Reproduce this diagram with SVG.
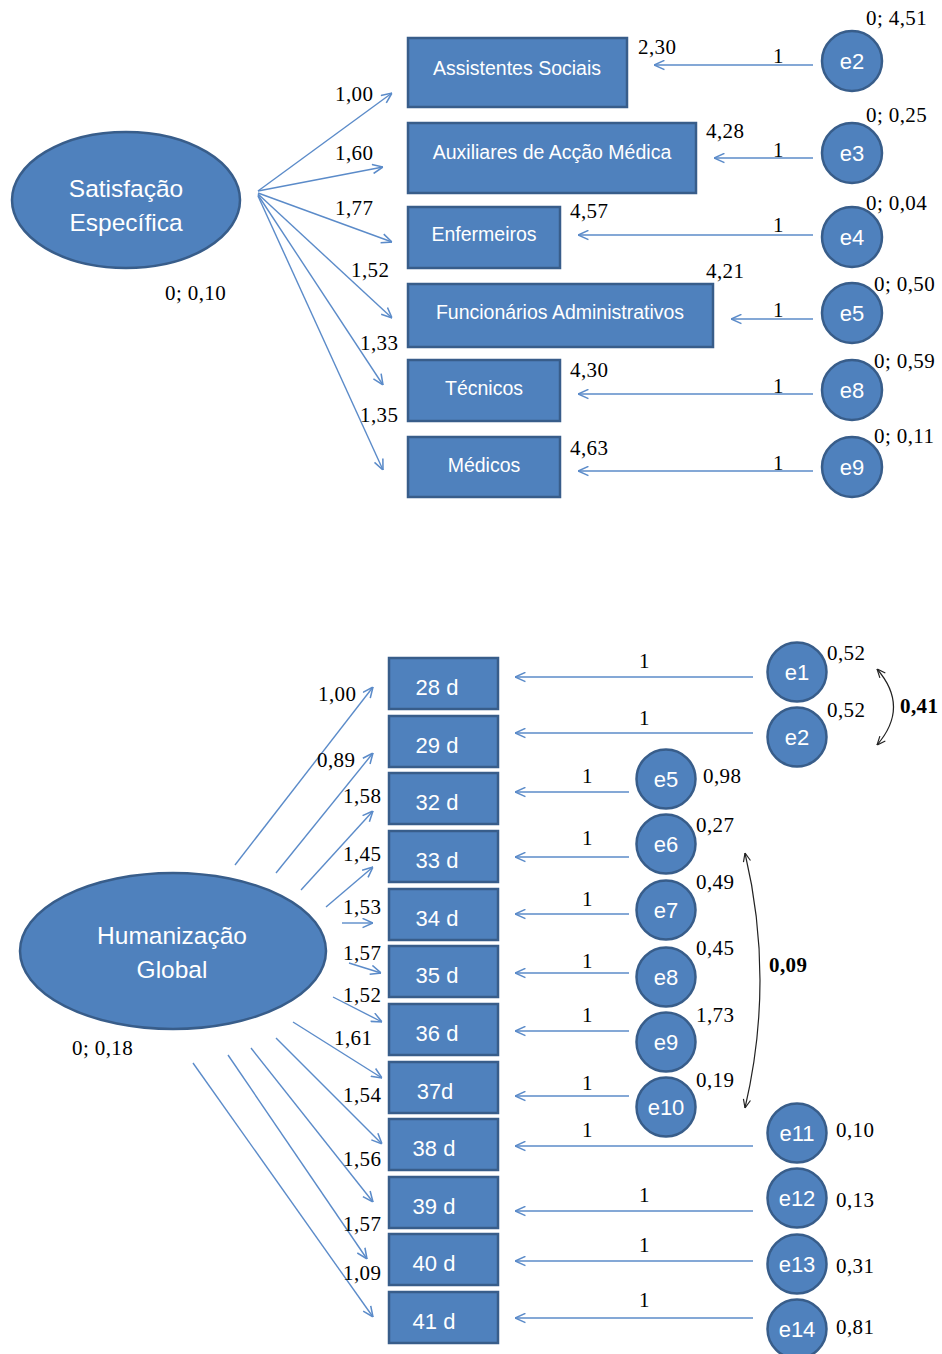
<svg xmlns="http://www.w3.org/2000/svg" width="942" height="1354" viewBox="0 0 942 1354">
<style>
.node{fill:#4f81bd;stroke:#385d8a;stroke-width:2.5}
.nt{font-family:"Liberation Sans",Arial,sans-serif;fill:#fff;text-anchor:middle}
.bt{font-size:19.5px}
.et{font-size:24.5px}
.ct{font-size:22px}
.lb{font-family:"Liberation Serif","Times New Roman",serif;font-size:21px;letter-spacing:0.4px;fill:#000}
.bold{font-weight:bold}
.ln{stroke:#5b8bc9;stroke-width:1.4;fill:none;marker-end:url(#ab)}
.cv{stroke:#222;stroke-width:1.2;fill:none;marker-start:url(#ak);marker-end:url(#ak)}
</style>
<defs>
<marker id="ab" viewBox="0 0 10 10" refX="10" refY="5" markerWidth="11" markerHeight="11" markerUnits="userSpaceOnUse" orient="auto">
<path d="M0.5,0.8 L10,5 L0.5,9.2" fill="none" stroke="#5b8bc9" stroke-width="1.4"/>
</marker>
<marker id="ak" viewBox="0 0 10 10" refX="10" refY="5" markerWidth="9" markerHeight="9" markerUnits="userSpaceOnUse" orient="auto-start-reverse">
<path d="M0.5,1 L10,5 L0.5,9" fill="none" stroke="#222" stroke-width="1.3"/>
</marker>
</defs>

<g id="connectors">
<line class="ln" x1="258" y1="191" x2="392" y2="93"/>
<line class="ln" x1="258" y1="191" x2="383" y2="167"/>
<line class="ln" x1="258" y1="193" x2="392" y2="242"/>
<line class="ln" x1="258" y1="194" x2="392" y2="318"/>
<line class="ln" x1="258" y1="195" x2="383" y2="385"/>
<line class="ln" x1="258" y1="196" x2="383" y2="470"/>
<line class="ln" x1="813" y1="65" x2="654" y2="65"/>
<line class="ln" x1="813" y1="158" x2="714" y2="158"/>
<line class="ln" x1="813" y1="235" x2="578" y2="235"/>
<line class="ln" x1="813" y1="319" x2="731" y2="319"/>
<line class="ln" x1="813" y1="394" x2="578" y2="394"/>
<line class="ln" x1="813" y1="471" x2="578" y2="471"/>
<line class="ln" x1="235" y1="865" x2="373" y2="687"/>
<line class="ln" x1="276" y1="873" x2="373" y2="753"/>
<line class="ln" x1="301" y1="890" x2="373" y2="811"/>
<line class="ln" x1="326" y1="907" x2="373" y2="867"/>
<line class="ln" x1="342" y1="923" x2="373" y2="923"/>
<line class="ln" x1="349" y1="963" x2="381" y2="973"/>
<line class="ln" x1="333" y1="997" x2="382" y2="1022"/>
<line class="ln" x1="293" y1="1022" x2="382" y2="1078"/>
<line class="ln" x1="276" y1="1038" x2="382" y2="1144"/>
<line class="ln" x1="251" y1="1048" x2="373" y2="1202"/>
<line class="ln" x1="228" y1="1055" x2="367" y2="1259"/>
<line class="ln" x1="193" y1="1063" x2="373" y2="1317"/>
<line class="ln" x1="753" y1="677" x2="515" y2="677"/>
<line class="ln" x1="753" y1="733" x2="515" y2="733"/>
<line class="ln" x1="629" y1="792" x2="515" y2="792"/>
<line class="ln" x1="629" y1="857" x2="515" y2="857"/>
<line class="ln" x1="629" y1="914" x2="515" y2="914"/>
<line class="ln" x1="629" y1="973" x2="515" y2="973"/>
<line class="ln" x1="629" y1="1031" x2="515" y2="1031"/>
<line class="ln" x1="629" y1="1096" x2="515" y2="1096"/>
<line class="ln" x1="753" y1="1146" x2="515" y2="1146"/>
<line class="ln" x1="753" y1="1211" x2="515" y2="1211"/>
<line class="ln" x1="753" y1="1261" x2="515" y2="1261"/>
<line class="ln" x1="753" y1="1318" x2="515" y2="1318"/>
<path class="cv" d="M877,669 Q910,707 877,745"/>
<path class="cv" d="M745,853 Q775,980 745,1108"/>
</g>

<g id="labels" class="lb">
<text x="335" y="101">1,00</text>
<text x="335" y="160">1,60</text>
<text x="335" y="215">1,77</text>
<text x="351" y="277">1,52</text>
<text x="360" y="350">1,33</text>
<text x="360" y="422">1,35</text>
<text x="165" y="300">0; 0,10</text>
<text x="638" y="54">2,30</text>
<text x="706" y="138">4,28</text>
<text x="570" y="218">4,57</text>
<text x="706" y="278">4,21</text>
<text x="570" y="377">4,30</text>
<text x="570" y="455">4,63</text>
<text x="773" y="63">1</text>
<text x="773" y="157">1</text>
<text x="773" y="232">1</text>
<text x="773" y="317">1</text>
<text x="773" y="393">1</text>
<text x="773" y="470">1</text>
<text x="866" y="25">0; 4,51</text>
<text x="866" y="122">0; 0,25</text>
<text x="866" y="210">0; 0,04</text>
<text x="874" y="291">0; 0,50</text>
<text x="874" y="368">0; 0,59</text>
<text x="874" y="443">0; 0,11</text>
<text x="318" y="701">1,00</text>
<text x="317" y="767">0,89</text>
<text x="343" y="803">1,58</text>
<text x="343" y="861">1,45</text>
<text x="343" y="914">1,53</text>
<text x="343" y="960">1,57</text>
<text x="343" y="1002">1,52</text>
<text x="334" y="1045">1,61</text>
<text x="343" y="1102">1,54</text>
<text x="343" y="1166">1,56</text>
<text x="343" y="1231">1,57</text>
<text x="343" y="1280">1,09</text>
<text x="72" y="1055">0; 0,18</text>
<text x="639" y="668">1</text>
<text x="639" y="725">1</text>
<text x="582" y="783">1</text>
<text x="582" y="845">1</text>
<text x="582" y="906">1</text>
<text x="582" y="968">1</text>
<text x="582" y="1022">1</text>
<text x="582" y="1090">1</text>
<text x="582" y="1137">1</text>
<text x="639" y="1202">1</text>
<text x="639" y="1252">1</text>
<text x="639" y="1307">1</text>
<text x="827" y="660">0,52</text>
<text x="827" y="717">0,52</text>
<text x="703" y="783">0,98</text>
<text x="696" y="832">0,27</text>
<text x="696" y="889">0,49</text>
<text x="696" y="955">0,45</text>
<text x="696" y="1022">1,73</text>
<text x="696" y="1087">0,19</text>
<text x="836" y="1137">0,10</text>
<text x="836" y="1207">0,13</text>
<text x="836" y="1273">0,31</text>
<text x="836" y="1334">0,81</text>
<text class="bold" x="900" y="713">0,41</text>
<text class="bold" x="769" y="972">0,09</text>
</g>

<g id="satisfacao-especifica">
<ellipse class="node" cx="126" cy="200" rx="114" ry="68"/>
<text class="nt et" x="126" y="197">Satisfação</text>
<text class="nt et" x="126" y="231">Específica</text>
</g>
<g id="assistentes-sociais"><rect class="node" x="408" y="38" width="219" height="69"/><text class="nt bt" x="517" y="75">Assistentes Sociais</text></g>
<g id="auxiliares"><rect class="node" x="408" y="123" width="288" height="70"/><text class="nt bt" x="552" y="159">Auxiliares de Acção Médica</text></g>
<g id="enfermeiros"><rect class="node" x="408" y="207" width="152" height="61"/><text class="nt bt" x="484" y="241">Enfermeiros</text></g>
<g id="funcionarios"><rect class="node" x="408" y="284" width="305" height="63"/><text class="nt bt" x="560" y="319">Funcionários Administrativos</text></g>
<g id="tecnicos"><rect class="node" x="408" y="360" width="152" height="61"/><text class="nt bt" x="484" y="395">Técnicos</text></g>
<g id="medicos"><rect class="node" x="408" y="437" width="152" height="60"/><text class="nt bt" x="484" y="472">Médicos</text></g>

<g id="top-e2"><circle class="node" cx="852" cy="61" r="30"/><text class="nt ct" x="852" y="69">e2</text></g>
<g id="top-e3"><circle class="node" cx="852" cy="153" r="30"/><text class="nt ct" x="852" y="161">e3</text></g>
<g id="top-e4"><circle class="node" cx="852" cy="237" r="30"/><text class="nt ct" x="852" y="245">e4</text></g>
<g id="top-e5"><circle class="node" cx="852" cy="313" r="30"/><text class="nt ct" x="852" y="321">e5</text></g>
<g id="top-e8"><circle class="node" cx="852" cy="390" r="30"/><text class="nt ct" x="852" y="398">e8</text></g>
<g id="top-e9"><circle class="node" cx="852" cy="467" r="30"/><text class="nt ct" x="852" y="475">e9</text></g>

<g id="humanizacao-global">
<ellipse class="node" cx="173" cy="951" rx="153" ry="78"/>
<text class="nt et" x="172" y="944">Humanização</text>
<text class="nt et" x="172" y="978">Global</text>
</g>
<g id="b28"><rect class="node" x="389" y="658" width="109" height="51"/><text class="nt ct" x="437" y="695">28 d</text></g>
<g id="b29"><rect class="node" x="389" y="716" width="109" height="51"/><text class="nt ct" x="437" y="753">29 d</text></g>
<g id="b32"><rect class="node" x="389" y="773" width="109" height="51"/><text class="nt ct" x="437" y="810">32 d</text></g>
<g id="b33"><rect class="node" x="389" y="831" width="109" height="51"/><text class="nt ct" x="437" y="868">33 d</text></g>
<g id="b34"><rect class="node" x="389" y="889" width="109" height="51"/><text class="nt ct" x="437" y="926">34 d</text></g>
<g id="b35"><rect class="node" x="389" y="946" width="109" height="51"/><text class="nt ct" x="437" y="983">35 d</text></g>
<g id="b36"><rect class="node" x="389" y="1004" width="109" height="51"/><text class="nt ct" x="437" y="1041">36 d</text></g>
<g id="b37"><rect class="node" x="389" y="1062" width="109" height="51"/><text class="nt ct" x="435" y="1099">37d</text></g>
<g id="b38"><rect class="node" x="389" y="1119" width="109" height="51"/><text class="nt ct" x="434" y="1156">38 d</text></g>
<g id="b39"><rect class="node" x="389" y="1177" width="109" height="51"/><text class="nt ct" x="434" y="1214">39 d</text></g>
<g id="b40"><rect class="node" x="389" y="1234" width="109" height="51"/><text class="nt ct" x="434" y="1271">40 d</text></g>
<g id="b41"><rect class="node" x="389" y="1292" width="109" height="51"/><text class="nt ct" x="434" y="1329">41 d</text></g>

<g id="e1"><circle class="node" cx="797" cy="672" r="29.5"/><text class="nt ct" x="797" y="680">e1</text></g>
<g id="e2"><circle class="node" cx="797" cy="737" r="29.5"/><text class="nt ct" x="797" y="745">e2</text></g>
<g id="e5"><circle class="node" cx="666" cy="779" r="29.5"/><text class="nt ct" x="666" y="787">e5</text></g>
<g id="e6"><circle class="node" cx="666" cy="844" r="29.5"/><text class="nt ct" x="666" y="852">e6</text></g>
<g id="e7"><circle class="node" cx="666" cy="910" r="29.5"/><text class="nt ct" x="666" y="918">e7</text></g>
<g id="e8"><circle class="node" cx="666" cy="977" r="29.5"/><text class="nt ct" x="666" y="985">e8</text></g>
<g id="e9"><circle class="node" cx="666" cy="1042" r="29.5"/><text class="nt ct" x="666" y="1050">e9</text></g>
<g id="e10"><circle class="node" cx="666" cy="1107" r="29.5"/><text class="nt ct" x="666" y="1115">e10</text></g>
<g id="e11"><circle class="node" cx="797" cy="1133" r="29.5"/><text class="nt ct" x="797" y="1141">e11</text></g>
<g id="e12"><circle class="node" cx="797" cy="1198" r="29.5"/><text class="nt ct" x="797" y="1206">e12</text></g>
<g id="e13"><circle class="node" cx="797" cy="1264" r="29.5"/><text class="nt ct" x="797" y="1272">e13</text></g>
<g id="e14"><circle class="node" cx="797" cy="1329" r="29.5"/><text class="nt ct" x="797" y="1337">e14</text></g>
</svg>
